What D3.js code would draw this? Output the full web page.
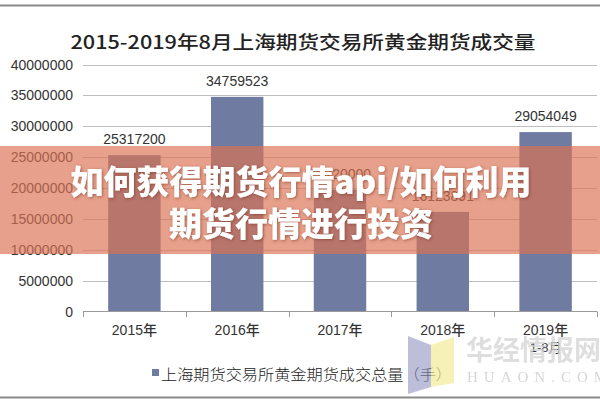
<!DOCTYPE html>
<html><head><meta charset="utf-8">
<script src="https://cdn.jsdelivr.net/npm/d3@7/dist/d3.min.js"></script>
<style>html,body{margin:0;padding:0;background:#fff;}svg{display:block;}</style>
</head><body>
<svg id="c" width="600" height="400"></svg>
<script>
const categories = ["2015年","2016年","2017年","2018年","2019年"];
const subLabels = ["","","","","1-8月"];
const values = [25317200, 34759523, 19720000, 16123891, 29054049];
const yTicks = [0,5000000,10000000,15000000,20000000,25000000,30000000,35000000,40000000];
const titleText = "2015-2019年8月上海期货交易所黄金期货成交量";
const legendText = "上海期货交易所黄金期货成交总量（手）";
const bannerLines = ["如何获得期货行情api/如何利用","期货行情进行投资"];

const svg = d3.select("#c");
const cjk = "'Noto Sans CJK SC', 'Liberation Sans', sans-serif";
const sans = "'Liberation Sans', Arial, 'Noto Sans CJK SC', sans-serif";

// frame lines
svg.append("line").attr("x1",0).attr("x2",600).attr("y1",5.5).attr("y2",5.5).attr("stroke","#8a8a8a").attr("stroke-width",2);
svg.append("line").attr("x1",0).attr("x2",600).attr("y1",397.5).attr("y2",397.5).attr("stroke","#8a8a8a").attr("stroke-width",2);

// title
svg.append("text").attr("x",303).attr("y",49).attr("text-anchor","middle")
  .attr("font-family",cjk).attr("font-size",18).attr("font-weight",500).attr("fill","#222")
  .attr("textLength",465).attr("lengthAdjust","spacingAndGlyphs").text(titleText);

const x = d3.scaleBand().domain(categories).range([83,597]).paddingInner(0.49).paddingOuter(0.245);
const y = d3.scaleLinear().domain([0,40000000]).range([311.5,64.5]);

// gridlines
svg.append("g").selectAll("line").data(yTicks.filter(d=>d>0)).join("line")
  .attr("x1",83).attr("x2",597).attr("y1",d=>Math.round(y(d))+0.5).attr("y2",d=>Math.round(y(d))+0.5)
  .attr("stroke","#bdbdbd").attr("stroke-width",1);

// y tick labels
svg.append("g").selectAll("text").data(yTicks).join("text")
  .attr("x",73).attr("y",d=>y(d)+5).attr("text-anchor","end")
  .attr("font-family",sans).attr("font-size",14).attr("fill","#333")
  .text(d=>d3.format("d")(d));

// bars
svg.append("g").selectAll("rect").data(values).join("rect")
  .attr("x",(d,i)=>x(categories[i])).attr("width",x.bandwidth())
  .attr("y",d=>y(d)).attr("height",d=>y(0)-y(d)).attr("fill","#6f7ba0");

// value labels
svg.append("g").selectAll("text").data(values).join("text")
  .attr("x",(d,i)=>x(categories[i])+x.bandwidth()/2).attr("y",d=>y(d)-11)
  .attr("text-anchor","middle").attr("font-family",sans).attr("font-size",14).attr("fill","#333")
  .text(d=>d);

// x axis
const xa = svg.append("g");
xa.append("line").attr("x1",83).attr("x2",597).attr("y1",311.5).attr("y2",311.5).attr("stroke","#9a9a9a");
const bounds = categories.map(c=>x(c)-x.step()*x.paddingInner()/2).concat([597]);
xa.selectAll("line.t").data(bounds).join("line").attr("class","t")
  .attr("x1",d=>Math.round(d)+0.5).attr("x2",d=>Math.round(d)+0.5).attr("y1",311.5).attr("y2",317).attr("stroke","#9a9a9a");
xa.selectAll("text.c").data(categories).join("text").attr("class","c")
  .attr("x",d=>x(d)+x.bandwidth()/2).attr("y",335).attr("text-anchor","middle")
  .attr("font-family",sans).attr("font-size",14).attr("font-weight",500).attr("fill","#333").text(d=>d);
xa.selectAll("text.s").data(subLabels).join("text").attr("class","s")
  .attr("x",(d,i)=>x(categories[i])+x.bandwidth()/2).attr("y",352).attr("text-anchor","middle")
  .attr("font-family",sans).attr("font-size",13).attr("fill","#333").text(d=>d);

// legend
svg.append("rect").attr("x",152).attr("y",369).attr("width",7).attr("height",7).attr("fill","#6f7ba0");
svg.append("text").attr("x",161).attr("y",380).attr("font-family",cjk).attr("font-size",15).attr("font-weight",300).attr("fill","#222")
  .attr("textLength",291).attr("lengthAdjust","spacingAndGlyphs").text(legendText);

// watermark
const wm = svg.append("g").attr("opacity",0.75);
wm.append("polygon").attr("points","408,336 431,345 431,387 408,394").attr("fill","#8e92c0").attr("opacity",0.8);
wm.append("polygon").attr("points","431,345 454,337 454,383 431,387").attr("fill","#f3ec95").attr("opacity",0.9);
wm.append("text").attr("x",466).attr("y",360).attr("font-family","'Noto Sans CJK SC', serif").attr("font-size",27).attr("font-weight",700)
  .attr("fill","#d4d4d4").text("华经情报网");
wm.append("text").attr("x",467).attr("y",382).attr("font-family","'Liberation Serif', serif").attr("font-size",15)
  .attr("fill","#c8c8c8").attr("letter-spacing",6).text("HUAON.COM");

// banner overlay
svg.append("rect").attr("x",0).attr("y",146).attr("width",600).attr("height",108).attr("fill","rgb(218,115,84)").attr("opacity",0.68);
const defs = svg.append("defs");
const f = defs.append("filter").attr("id","sh").attr("x","-10%").attr("y","-30%").attr("width","120%").attr("height","160%");
f.append("feDropShadow").attr("dx",1).attr("dy",1).attr("stdDeviation",1.5).attr("flood-color","#7a3020").attr("flood-opacity",0.6);
svg.append("g").attr("filter","url(#sh)").selectAll("text").data(bannerLines).join("text")
  .attr("x",301).attr("y",(d,i)=>194+i*42).attr("text-anchor","middle")
  .attr("font-family",cjk).attr("font-size",33).attr("font-weight",900).attr("fill","#fff").text(d=>d);
</script>
</body></html>
